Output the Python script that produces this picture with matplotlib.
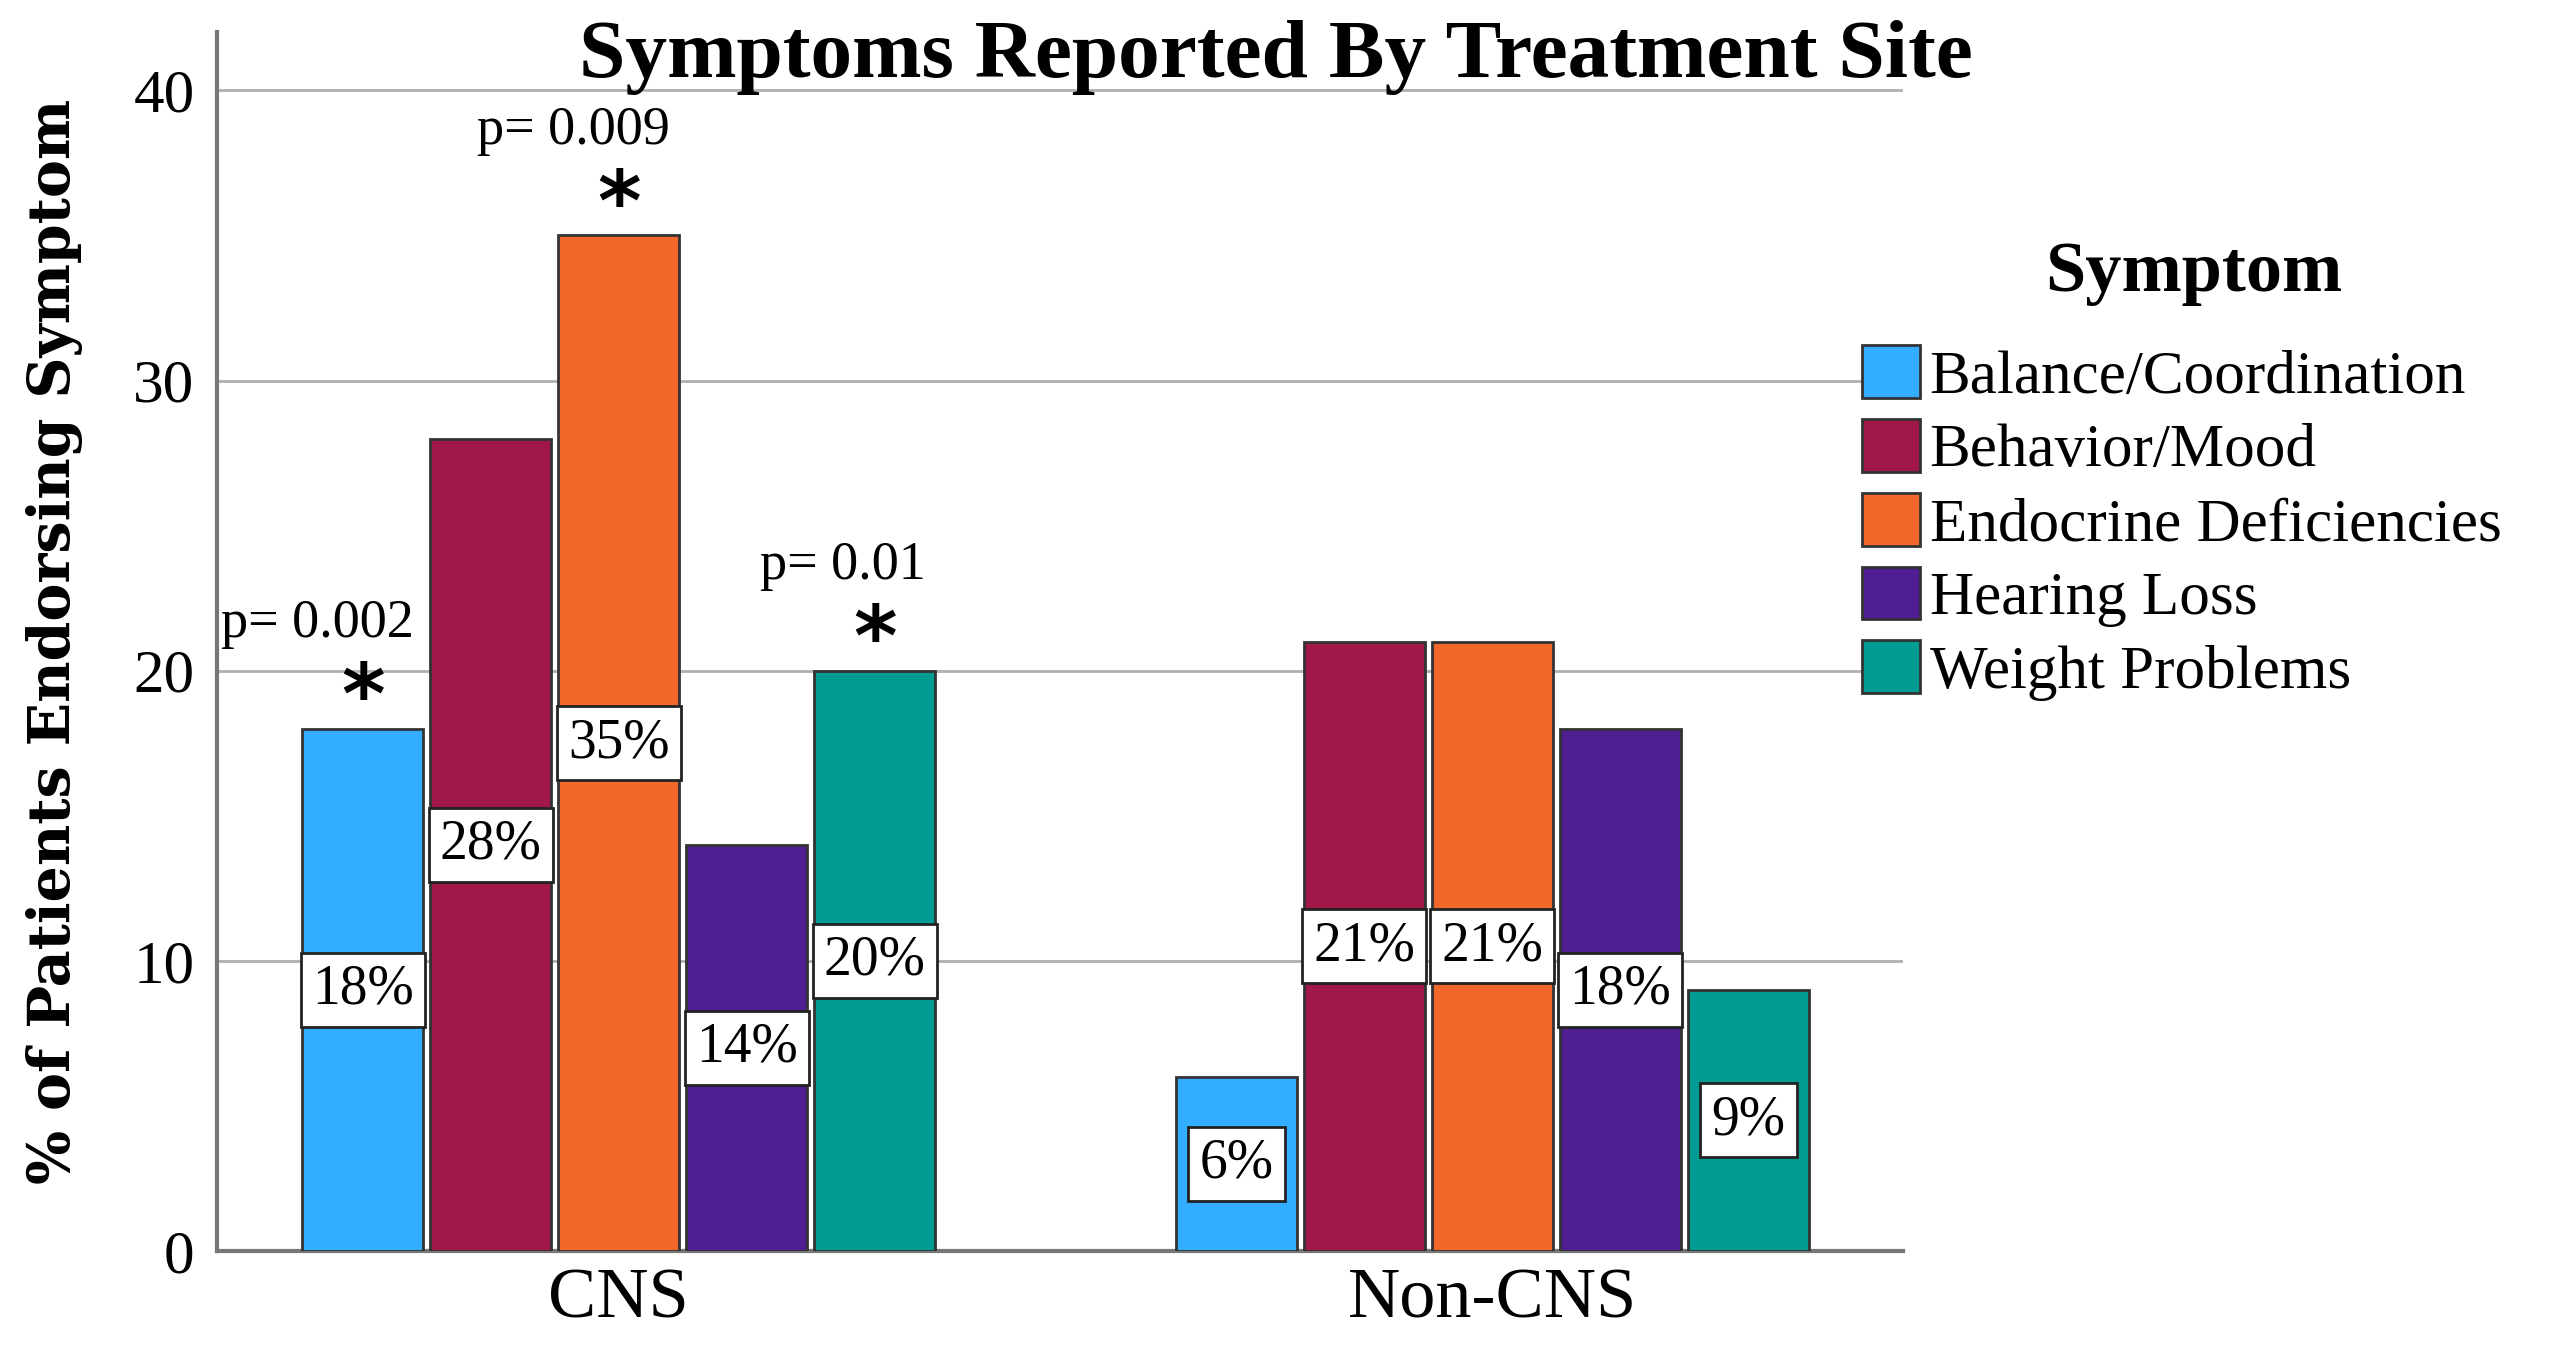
import numpy as np
import matplotlib
matplotlib.use("Agg")
import matplotlib.pyplot as plt

sites = ["CNS", "Non-CNS"]
symptoms = ["Balance/Coordination", "Behavior/Mood", "Endocrine Deficiencies",
            "Hearing Loss", "Weight Problems"]
colors = ["#33adff", "#a1174a", "#f2682a", "#501e93", "#009c94"]
# percent of patients, rows = symptom, cols = site
values = [[18, 6], [28, 21], [35, 21], [14, 18], [20, 9]]
# significance notes over CNS bars
p_notes = ["p= 0.002", None, "p= 0.009", None, "p= 0.01"]

plt.rcParams['font.family'] = ['Liberation Serif', 'DejaVu Serif']

fig = plt.figure(figsize=(12.755, 6.74), dpi=200)
ax = fig.add_axes([0.085, 0.072, 0.661, 0.904])

x = np.arange(len(sites))
pitch = 0.1465
width = 0.139
for i, sym in enumerate(symptoms):
    pos = x + (i - 2) * pitch
    ax.bar(pos, values[i], width, color=colors[i], edgecolor="#333333",
           linewidth=1.0, label=sym, zorder=3)
    for xp, v in zip(pos, values[i]):
        ax.text(xp, v / 2, f"{v}%", ha="center", va="center", fontsize=20,
                zorder=5,
                bbox=dict(boxstyle="square,pad=0.2", fc="white", ec="#222222", lw=1.0))
    if p_notes[i]:
        v = values[i][0]
        ax.text(pos[0] + 0.058, v + 3.6, p_notes[i], ha="right", va="center",
                fontsize=19.5, zorder=6)
        ax.text(pos[0], v + 1.0, "*", ha="center", va="center", fontsize=30,
                fontweight="bold", family="DejaVu Sans", zorder=6)

ax.set_xlim(-0.46, 1.47)
ax.set_ylim(0, 42)
ax.set_yticks([0, 10, 20, 30, 40])
ax.set_xticks(x)
ax.set_xticklabels(sites, fontsize=26)
ax.tick_params(axis="y", labelsize=22, length=0, pad=8)
ax.tick_params(axis="x", length=0, pad=6)
ax.grid(axis="y", color="#b0b0b0", linewidth=1.0, zorder=0)
for s in ["top", "right"]:
    ax.spines[s].set_visible(False)
for s in ["left", "bottom"]:
    ax.spines[s].set_color("#777777")
    ax.spines[s].set_linewidth(1.5)

ax.set_ylabel("% of Patients Endorsing Symptom", fontsize=20.5, fontweight="bold",
              family="DejaVu Serif", labelpad=18)

fig.text(0.5, 0.957, "Symptoms Reported By Treatment Site", ha="center", va="center",
         fontsize=30, fontweight="bold")

fig.text(0.86, 0.797, "Symptom", ha="center", va="center",
         fontsize=26, fontweight="bold")
leg = ax.legend(loc="upper left", bbox_to_anchor=(0.7205, 0.762),
                bbox_transform=fig.transFigure, frameon=False, fontsize=22,
                handlelength=0.95, handleheight=0.95, handletextpad=0.15,
                labelspacing=0.22, borderaxespad=0)
for h in leg.legend_handles:
    h.set_edgecolor("#333333")

fig.savefig("out.png", dpi=200)
